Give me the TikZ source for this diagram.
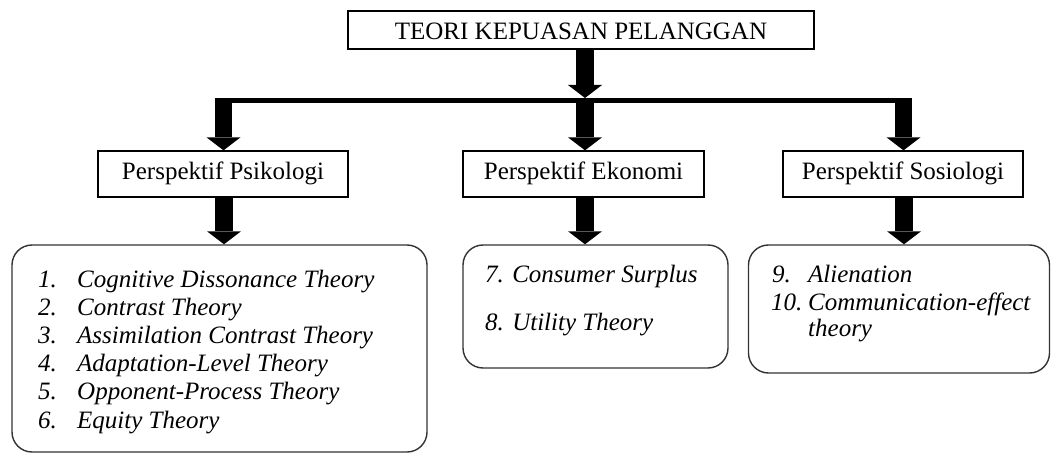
\documentclass[tikz,border=0pt]{standalone}
\usepackage{fontspec}
\setmainfont{Liberation Serif}
\usetikzlibrary{arrows.meta}
\tikzset{
  titlebox/.style={draw=black, line width=1.3pt, fill=white, inner sep=0pt,
    font=\fontsize{25}{30}\selectfont, text height=20pt, text depth=0pt},
  perbox/.style={draw=black, line width=1.3pt, fill=white, inner sep=0pt,
    minimum height=46pt, font=\fontsize{25}{30}\selectfont, text height=17pt, text depth=5pt},
  listbox/.style={draw=black!80, line width=1.4pt, rounded corners=20pt, inner sep=0pt},
  item/.style={anchor=base west, inner sep=0pt, font=\fontsize{25}{30}\selectfont\itshape},
  bigarrow/.style={line width=17.5pt, black,
    -{Triangle[width=34pt,length=13pt,line width=0pt]}},
  bus/.style={line width=5pt, black}
}
\begin{document}
\begin{tikzpicture}[x=1pt,y=-1pt]
\useasboundingbox (0,0) rectangle (1051,454);

% top box
\node[titlebox, minimum width=466pt, minimum height=38pt] (top) at (581,30) {TEORI KEPUASAN PELANGGAN};

% bus line
\coordinate (busL) at (215,100.5);
\coordinate (busR) at (912,100.5);
\coordinate (tipL) at (223.5,98);
\coordinate (tipM) at (585,98);
\coordinate (tipR) at (903.5,98);
\draw[bus] (busL) -- (busR);

% perspective boxes
\node[perbox, minimum width=250pt] (psi) at (223,174) {Perspektif Psikologi};
\node[perbox, minimum width=241pt] (eko) at (583.5,174) {Perspektif Ekonomi};
\node[perbox, minimum width=240pt] (sos) at (903,174) {Perspektif Sosiologi};

% list boxes
\node[listbox, minimum width=415pt, minimum height=207pt] (lpsi) at (219.5,348.5) {};
\node[listbox, minimum width=265pt, minimum height=123pt] (leko) at (595.5,306.5) {};
\node[listbox, minimum width=301pt, minimum height=128pt] (lsos) at (899,309) {};

% arrows
\draw[bigarrow] (top.south -| tipM) -- (tipM);
\draw[bigarrow] (tipL) -- (tipL |- psi.north);
\draw[bigarrow] (tipM) -- (tipM |- eko.north);
\draw[bigarrow] (tipR) -- (tipR |- sos.north);
\draw[bigarrow] (psi.south -| 224,0) -- (224,0 |- lpsi.north);
\draw[bigarrow] (eko.south -| tipM) -- (tipM |- leko.north);
\draw[bigarrow] (sos.south -| 904,0) -- (904,0 |- lsos.north);

% psikologi list
\node[item] (n1) at (38,287) {1.};
\node[item] (t1) at (77,287) {Cognitive Dissonance Theory};
\node[item] (n2) at (38,315.2) {2.};
\node[item] (t2) at (77,315.2) {Contrast Theory};
\node[item] (n3) at (38,343.4) {3.};
\node[item] (t3) at (77,343.4) {Assimilation Contrast Theory};
\node[item] (n4) at (38,371.6) {4.};
\node[item] (t4) at (77,371.6) {Adaptation-Level Theory};
\node[item] (n5) at (38,399.8) {5.};
\node[item] (t5) at (77,399.8) {Opponent-Process Theory};
\node[item] (n6) at (38,428) {6.};
\node[item] (t6) at (77,428) {Equity Theory};

% ekonomi list
\node[item] (t7) at (485,282) {7. Consumer Surplus};
\node[item] (t8) at (485,330) {8. Utility Theory};

% sosiologi list
\node[item] (n9) at (772,282) {9.};
\node[item] (t9) at (808,282) {Alienation};
\node[item] (n10) at (771,310) {10.};
\node[item] (t10) at (808,310) {Communication-effect};
\node[item] (t10b) at (808,336) {theory};
\end{tikzpicture}
\end{document}
